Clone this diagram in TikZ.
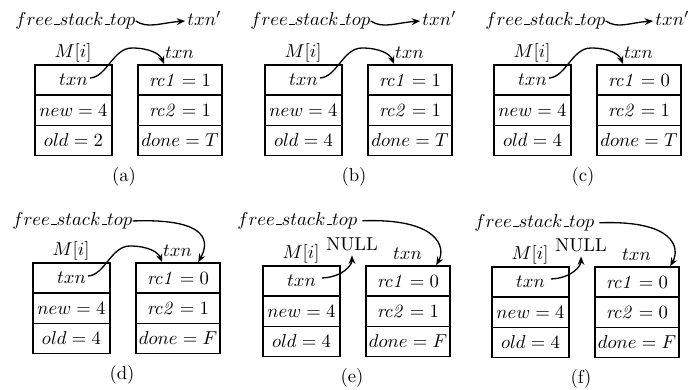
\documentclass[tikz,border=0pt]{standalone}
\usetikzlibrary{arrows.meta,calc}
\newcommand{\usc}{\mbox{\kern.06em\vbox{\hrule height.5pt width.3em}}}
\newcommand{\fstop}{$free\usc stack\usc top$}
\tikzset{
  cellL/.style={draw, line width=0.9pt, minimum width=41.2pt, minimum height=16.05pt, inner sep=0pt},
  cellR/.style={cellL, minimum width=44.9pt},
  lbl/.style={inner sep=0pt},
  ptr/.style={line width=0.7pt, -{Stealth[length=4.5pt,width=3.6pt]}},
}
\newcommand{\memcells}[7]{%
  \begin{scope}[shift={#2}]
    \node[cellL] (#1l1) at (38.5,15) {$txn$};
    \node[cellL] (#1l2) at (38.5,45.5) {$new = 4$};
    \node[cellL] (#1l3) at (38.5,75.5) {$old = #3$};
    \node[cellR] (#1r1) at (145,15) {$\mathit{rc1} = #4$};
    \node[cellR] (#1r2) at (145,45.5) {$\mathit{rc2} = #5$};
    \node[cellR] (#1r3) at (145,75.5) {$done = #6$};
    \node[lbl, anchor=base] (#1m) at (38,-8) {$M[i]$};
    \node[lbl, anchor=base] (#1t) at (144.5,-7) {$txn$};
    \node[lbl, anchor=base] (#1c) at (89,116) {(#7)};
  \end{scope}}
\begin{document}
\begin{tikzpicture}[x=0.535pt,y=-0.535pt]
\useasboundingbox (0,0) rectangle (689,389);

% ---------- top row ----------
\memcells{a}{(35,65)}{2}{1}{1}{T}{a}
\memcells{b}{(265,65)}{4}{1}{1}{T}{b}
\memcells{c}{(494,65)}{4}{0}{1}{T}{c}
% ---------- bottom row ----------
\memcells{d}{(33,263)}{4}{0}{1}{F}{d}
\memcells{e}{(263,266)}{4}{0}{1}{F}{e}
\memcells{f}{(492,267)}{4}{0}{0}{F}{f}

% free_stack_top -> txn' (top row)
\node[lbl, anchor=base west] (afst) at (15,25) {\fstop};
\node[lbl, anchor=base west] (atp) at (187,25) {$txn'$};
\draw[ptr] (afst.mid east) .. controls +(12,8) and +(-25,2) .. ([xshift=-1pt]atp.mid west);

\node[lbl, anchor=base west] (bfst) at (250,25) {\fstop};
\node[lbl, anchor=base west] (btp) at (422,25) {$txn'$};
\draw[ptr] (bfst.mid east) .. controls +(12,8) and +(-25,2) .. ([xshift=-1pt]btp.mid west);

\node[lbl, anchor=base west] (cfst) at (485,25) {\fstop};
\node[lbl, anchor=base west] (ctp) at (655,25) {$txn'$};
\draw[ptr] (cfst.mid east) .. controls +(12,8) and +(-25,2) .. ([xshift=-1pt]ctp.mid west);

% M[i].txn -> txn record (a)-(d)
\foreach \p in {a,b,c,d}{
  \draw[ptr] ($(\p l1.center)+(16.5,-2)$) .. controls +(17,-1) and +(-19,0) ..
     ($(\p l1.center)+(58.5,-32)$) .. controls +(18,0) and +(-4,-10) ..
     ($(\p r1.north west)+(27,0)$);
}

% free_stack_top -> txn record (d)-(f)
\node[lbl, anchor=base west] (dfst) at (12,225) {\fstop};
\draw[ptr] (dfst.mid east) .. controls +(80,-3) and +(10,-18) .. ($(dr1.north west)+(63,0)$);

\node[lbl, anchor=base west] (efst) at (237,225) {\fstop};
\draw[ptr, shorten <=2.5pt] (efst.mid east) .. controls +(80,-3) and +(10,-18) .. ($(er1.north west)+(71,0)$);

\node[lbl, anchor=base west] (ffst) at (474,227) {\fstop};
\draw[ptr, shorten <=2.5pt] (ffst.mid east) .. controls +(80,-3) and +(10,-18) .. ($(fr1.north west)+(76,0)$);

% NULL pointers (e), (f)
\node[lbl, anchor=base] (enull) at ($(el1.center)+(50.5,-31)$) {NULL};
\draw[ptr, shorten >=2.5pt] ($(el1.center)+(20.5,-3)$) .. controls +(21,-1) and +(0,14) .. (enull.south);

\node[lbl, anchor=base] (fnull) at ($(fl1.center)+(50.5,-31)$) {NULL};
\draw[ptr, shorten >=2.5pt] ($(fl1.center)+(20.5,-3)$) .. controls +(21,-1) and +(0,14) .. (fnull.south);
\end{tikzpicture}
\end{document}
